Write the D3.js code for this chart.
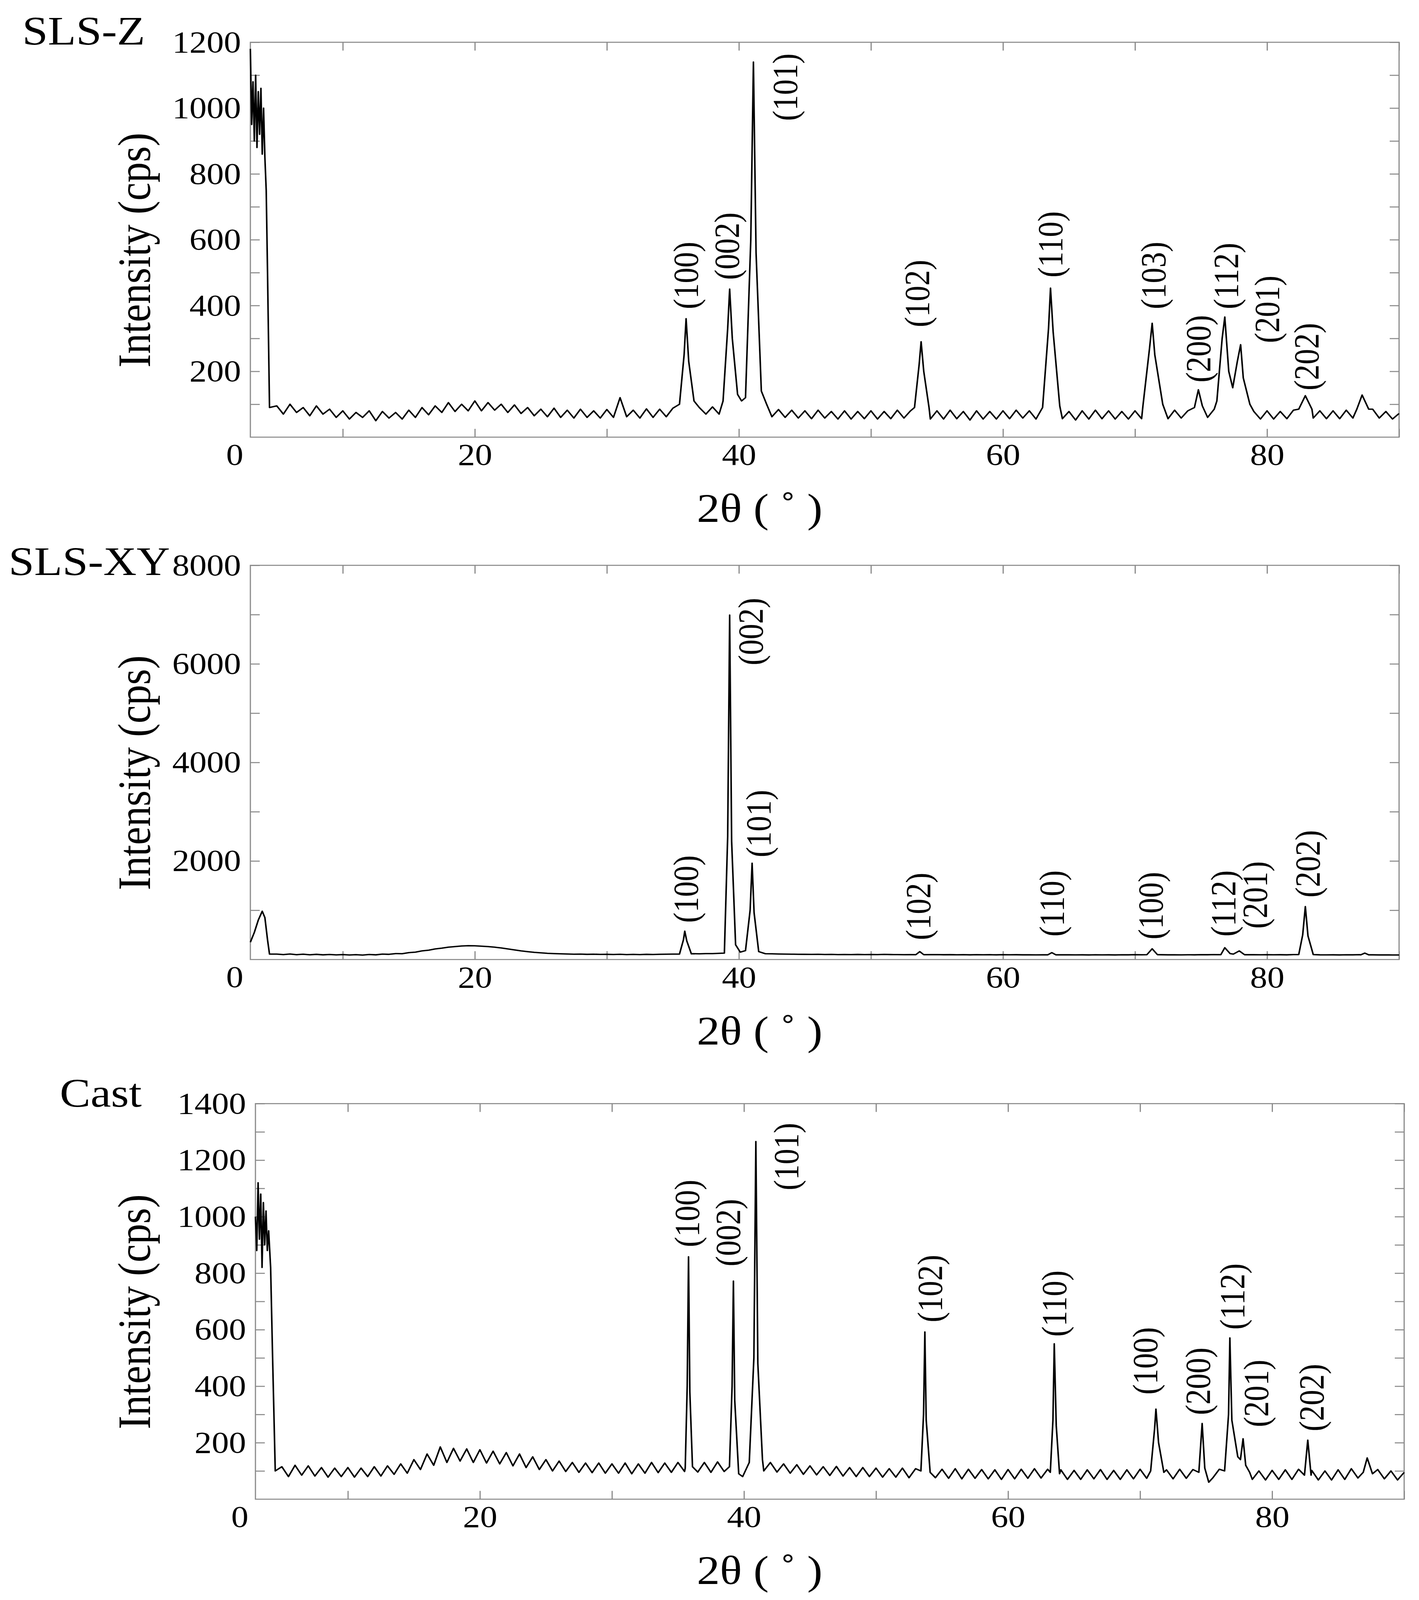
<!DOCTYPE html>
<html>
<head>
<meta charset="utf-8">
<script src="https://cdn.jsdelivr.net/npm/d3@7"></script>
<style>
  html, body { margin: 0; padding: 0; background: #fff; overflow: hidden; }
  svg { display: block; width: 100vw; height: 100vh; }
  text { font-family: "Liberation Serif", "Times New Roman", serif; fill: #000; }
</style>
</head>
<body>
<div id="vis-container"></div>
<script>
// ---------------- data ----------------
const xDomain = [3, 90]
const xTicks = [10, 20, 30, 40, 50, 60, 70, 80, 90]
const xTickLabels = [20, 40, 60, 80]

// baseline y values from 5 to 90 deg, every 0.5 deg
const baseZ = [
  95,70,100,75,90,65,95,70,85,60,
  80,55,75,60,80,50,78,58,75,55,
  82,60,90,68,95,75,105,78,100,80,
  110,80,105,82,100,75,98,72,90,65,
  85,62,88,60,82,58,85,60,80,58,
  84,60,120,62,82,58,86,60,85,62,
  88,65,90,68,90,70,92,70,95,70,
  95,72,90,68,86,62,84,60,82,58,
  80,56,82,58,78,55,80,55,78,56,
  80,55,78,56,82,58,80,56,78,55,
  80,55,82,56,78,52,80,55,78,55,
  80,56,82,58,80,55,78,55,80,56,
  78,52,80,55,82,56,80,55,78,55,
  80,56,78,55,80,56,82,58,80,58,
  84,60,85,62,82,58,80,56,78,55,
  80,55,78,56,82,60,84,58,80,56,
  80,56,82,58,90,62,85,58,78,55,
  72]
const baseXY = [
  110,100,112,98,108,96,105,95,102,94,
  100,92,98,90,102,95,110,105,120,118,
  140,150,175,190,215,230,250,262,275,280,
  278,270,262,250,235,215,195,175,160,145,
  135,125,120,115,112,108,110,105,108,104,
  105,102,106,100,104,100,105,102,106,108,
  110,115,112,118,115,120,120,125,122,125,
  130,128,125,120,118,115,112,110,108,106,
  105,104,106,102,104,100,102,100,103,100,
  102,100,104,101,100,98,100,98,102,99,
  100,97,99,96,98,95,98,96,97,95,
  98,96,97,95,96,94,96,95,97,95,
  96,94,95,93,96,94,95,93,96,95,
  98,96,100,98,97,95,96,94,96,95,
  98,97,100,98,100,98,99,97,98,96,
  98,96,97,95,100,105,100,96,95,94,
  95,93,96,95,98,96,95,93,94,92,
  92]
const baseCast = [
  115,80,120,85,118,82,112,78,110,80,
  112,78,110,80,115,82,118,88,125,92,
  140,105,160,120,185,130,180,135,178,130,
  175,128,170,125,165,118,160,112,150,105,
  140,100,135,98,130,95,128,94,128,92,
  125,92,128,90,125,92,130,94,128,95,
  130,98,132,96,130,95,132,98,135,100,
  138,105,135,100,130,96,125,92,122,88,
  118,86,115,84,116,82,112,80,112,80,
  110,78,108,78,110,76,108,75,108,76,
  106,74,108,72,106,74,105,72,104,70,
  105,72,106,74,108,75,106,72,104,70,
  102,70,104,72,105,70,102,70,104,72,
  106,74,105,72,104,72,106,74,105,70,
  108,75,106,74,104,72,102,70,100,68,
  102,70,104,70,106,72,102,68,100,68,
  104,70,108,75,120,85,105,72,100,68,
  95]

// low-angle direct-beam part
const beamZ = [[3,1180],[3.1,950],[3.2,1080],[3.3,900],[3.4,1100],[3.5,880],[3.6,1050],[3.7,920],[3.8,1060],[3.9,860],[4.0,1000],[4.1,850],[4.2,750],[4.3,500],[4.45,90]]
const beamXY = [[3,350],[3.3,550],[3.6,800],[3.9,980],[4.1,850],[4.3,400],[4.45,110]]
const beamCast = [[3,1000],[3.1,880],[3.2,1120],[3.3,920],[3.4,1080],[3.5,820],[3.6,1050],[3.7,900],[3.8,1020],[3.9,880],[4.0,950],[4.15,820],[4.3,500],[4.5,100]]

// diffraction peaks, as point groups
const peaksZ = [
  [[35.5,100],[35.85,250],[36.0,360],[36.2,230],[36.6,110]],
  [[38.8,110],[39.15,330],[39.3,450],[39.5,300],[39.9,130],[40.2,110],[40.5,120],[40.9,600],[41.1,1140],[41.3,560],[41.7,140],[42.1,100]],
  [[53.3,90],[53.65,220],[53.8,290],[54.0,200],[54.4,90]],
  [[63.0,90],[63.45,330],[63.6,453],[63.8,320],[64.3,95]],
  [[70.6,95],[71.1,270],[71.3,346],[71.5,250],[72.1,100]],
  [[74.5,90],[74.8,144],[75.1,95]],
  [[76.2,110],[76.6,300],[76.8,365],[77.1,200],[77.4,150],[77.75,230],[78.0,281],[78.2,180],[78.7,100]],
  [[82.4,85],[82.9,126],[83.4,85]],
  [[86.8,85],[87.2,128],[87.7,85]]
]
const peaksXY = [
  [[35.5,110],[35.8,400],[35.9,576],[36.05,380],[36.4,115]],
  [[38.9,130],[39.15,2500],[39.3,6990],[39.45,2400],[39.75,300],[40.1,150],[40.5,180],[40.85,1000],[41.0,1954],[41.15,950],[41.5,160]],
  [[53.4,98],[53.7,160],[54.0,98]],
  [[63.4,95],[63.7,140],[64.0,95]],
  [[70.9,98],[71.3,218],[71.7,98]],
  [[76.5,98],[76.8,240],[77.2,120],[77.45,110],[77.9,175],[78.3,97]],
  [[82.4,100],[82.7,500],[82.9,1075],[83.1,480],[83.5,100]],
  [[87.1,95],[87.4,130],[87.7,95]]
]
const peaksCast = [
  [[35.55,110],[35.7,400],[35.8,858],[35.9,380],[36.1,115]],
  [[38.9,115],[39.1,400],[39.2,772],[39.3,350],[39.6,90],[39.9,80],[40.4,130],[40.75,500],[40.9,1266],[41.05,480],[41.4,140]],
  [[53.4,100],[53.6,300],[53.7,592],[53.8,280],[54.1,95]],
  [[63.2,95],[63.4,280],[63.5,550],[63.65,260],[63.9,90]],
  [[70.8,100],[71.1,250],[71.2,319],[71.4,200],[71.8,95]],
  [[74.45,95],[74.7,268],[74.9,110],[75.2,60]],
  [[76.4,100],[76.7,300],[76.8,571],[76.95,280],[77.4,150],[77.6,140],[77.8,214],[78.0,120],[78.3,95]],
  [[82.45,85],[82.7,209],[82.95,85]],
  [[86.9,95],[87.2,146],[87.6,90]]
]

// peak labels: [text, 2theta, intensity at the start of the text]
const labelsZ = [["(100)",36.0,389],["(002)",39.1,478],["(101)",43.5,961],["(102)",53.5,334],["(110)",63.6,485],["(103)",71.4,389],["(200)",74.8,166],["(112)",76.9,389],["(201)",80.0,286],["(202)",83.0,142]]
const labelsXY = [["(100)",36.0,745],["(002)",40.9,5970],["(101)",41.5,2073],["(102)",53.6,394],["(110)",63.7,464],["(100)",71.2,408],["(112)",76.7,464],["(201)",79.1,625],["(202)",83.1,1258]]
const labelsCast = [["(100)",35.7,892],["(002)",38.8,824],["(101)",43.2,1093],["(102)",54.1,626],["(110)",63.5,575],["(100)",70.4,370],["(200)",74.4,298],["(112)",77.0,600],["(201)",78.8,255],["(202)",83.0,240]]

const titles = ["SLS-Z", "SLS-XY", "Cast"]
const yMaxes = [1200, 8000, 1400]
const yTickSteps = [100, 1000, 100]
const yLabelSteps = [200, 2000, 200]

// ---------------- layout ----------------
const W = 3633, H = 4619
const panels = [
  { base: baseZ, beam: beamZ, peaks: peaksZ, labels: labelsZ, left: 641, right: 3582, top: 122, bottom: 1262, tx: 57, ty: 129 },
  { base: baseXY, beam: beamXY, peaks: peaksXY, labels: labelsXY, left: 641, right: 3582, top: 1632, bottom: 2770, tx: 22, ty: 1660 },
  { base: baseCast, beam: beamCast, peaks: peaksCast, labels: labelsCast, left: 654, right: 3595, top: 3186, bottom: 4328, tx: 153, ty: 3195 }
]

// fill the whole window with the W x H drawing
const svg = d3.select('#vis-container')
  .append('svg')
  .attr('viewBox', `0 0 ${W} ${H}`)
  .attr('preserveAspectRatio', 'none')

svg.append('rect').attr('width', W).attr('height', H).attr('fill', '#fff')

const tickFont = 88
const gray = '#8a8a8a'

panels.forEach((p, i) => {
  const width = p.right - p.left
  const height = p.bottom - p.top

  const x = d3.scaleLinear().domain(xDomain).range([0, width])
  const y = d3.scaleLinear().domain([0, yMaxes[i]]).range([height, 0])

  const g = svg.append('g').attr('transform', `translate(${p.left},${p.top})`)

  // merge baseline, beam and peaks into one trace
  const peakRanges = p.peaks.map(pk => [pk[0][0], pk[pk.length - 1][0]])
  const basePts = p.base.map((v, k) => [5 + k * 0.5, v])
    .filter(d => !peakRanges.some(r => d[0] >= r[0] && d[0] <= r[1]))
  const trace = p.beam.concat(basePts, ...p.peaks).sort((a, b) => a[0] - b[0])

  const yTicks = d3.range(yTickSteps[i], yMaxes[i] + 1, yTickSteps[i])

  // axes, ticks pointing inward
  g.append('g').attr('transform', `translate(0,${height})`)
    .call(d3.axisBottom(x).tickValues(xTicks).tickSize(-24).tickPadding(18)
      .tickFormat(d => xTickLabels.includes(d) ? d : ''))
  g.append('g').call(d3.axisTop(x).tickValues(xTicks).tickSize(-24).tickFormat(''))
  g.append('g')
    .call(d3.axisLeft(y).tickValues(yTicks).tickSize(-24).tickPadding(24)
      .tickFormat(d => d % yLabelSteps[i] === 0 ? d : ''))
  g.append('g').attr('transform', `translate(${width},0)`)
    .call(d3.axisRight(y).tickValues(yTicks).tickSize(-24).tickFormat(''))

  g.selectAll('.domain').remove()
  g.selectAll('.tick line').attr('stroke', gray).attr('stroke-width', 3)
  g.selectAll('.tick text').attr('font-size', tickFont).attr('font-family', '"Liberation Serif", serif').attr('fill', '#000')

  // frame
  g.append('rect').attr('width', width).attr('height', height)
    .attr('fill', 'none').attr('stroke', gray).attr('stroke-width', 3)

  // origin label
  g.append('text').attr('x', -18).attr('y', height + 80)
    .attr('text-anchor', 'end').attr('font-size', tickFont).text('0')

  // trace
  g.append('path')
    .datum(trace)
    .attr('fill', 'none')
    .attr('stroke', '#000')
    .attr('stroke-width', 4)
    .attr('stroke-linejoin', 'round')
    .attr('d', d3.line().x(d => x(d[0])).y(d => y(d[1])))

  // peak labels
  g.selectAll('.plabel')
    .data(p.labels)
    .join('text')
    .attr('class', 'plabel')
    .attr('transform', d => `translate(${x(d[1])},${y(d[2])}) rotate(-90)`)
    .attr('dominant-baseline', 'central')
    .attr('font-size', 90)
    .text(d => d[0])

  // axis titles
  g.append('text')
    .attr('transform', `translate(${344 - p.left},${height / 2 + 30}) rotate(-90)`)
    .attr('text-anchor', 'middle')
    .attr('dominant-baseline', 'central')
    .attr('font-size', 118)
    .text('Intensity (cps)')

  g.append('text')
    .attr('x', 1945 - p.left)
    .attr('y', height + 245)
    .attr('text-anchor', 'middle')
    .attr('font-size', 118)
    .text('2θ ( ˚ )')

  svg.append('text')
    .attr('x', p.tx).attr('y', p.ty)
    .attr('font-size', 118)
    .text(titles[i])
})
</script>
</body>
</html>
